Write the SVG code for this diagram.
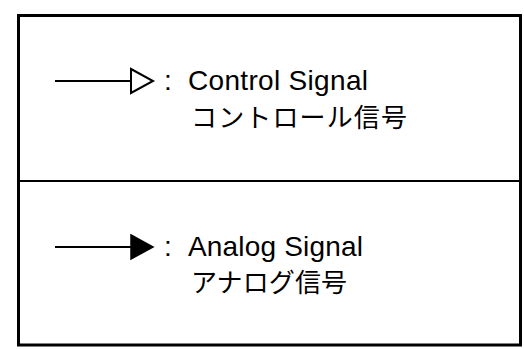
<svg xmlns="http://www.w3.org/2000/svg" width="524" height="349" viewBox="0 0 524 349">
  <style>
    .frame { fill: none; stroke: #000; stroke-width: 3; }
    .div { stroke: #000; stroke-width: 2; }
    .line { stroke: #000; stroke-width: 2; fill: none; }
    .en { font-family: "Liberation Sans", Arial, sans-serif; font-size: 28px; fill: #000; }
    .jp { font-family: "Noto Sans CJK JP", "Noto Sans CJK SC", sans-serif; font-size: 26px; fill: #000; }
  </style>
  <rect width="524" height="349" fill="#fff"/>
  <g id="frame">
    <rect class="frame" x="18.5" y="15.5" width="502" height="329.5"/>
    <line class="div" x1="18" y1="181" x2="521" y2="181"/>
  </g>
  <g id="connectors">
    <g id="control-arrow">
      <line class="line" x1="55" y1="81" x2="131" y2="81"/>
      <polygon points="131,69 153,81 131,93" fill="#fff" stroke="#000" stroke-width="2" stroke-linejoin="miter"/>
    </g>
    <g id="analog-arrow">
      <line class="line" x1="55" y1="247" x2="131" y2="247"/>
      <polygon points="131,235 153,247 131,259" fill="#000" stroke="#000" stroke-width="1.5"/>
    </g>
  </g>
  <g id="control-label">
    <text class="en" x="164" y="90">:</text>
    <text class="en" x="188" y="90" textLength="180" lengthAdjust="spacing">Control Signal</text>
    <text class="jp" x="191" y="127" textLength="216" lengthAdjust="spacing">コントロール信号</text>
  </g>
  <g id="analog-label">
    <text class="en" x="164" y="256">:</text>
    <text class="en" x="188" y="256" textLength="175" lengthAdjust="spacing">Analog Signal</text>
    <text class="jp" x="191" y="292" textLength="156" lengthAdjust="spacing">アナログ信号</text>
  </g>
</svg>
